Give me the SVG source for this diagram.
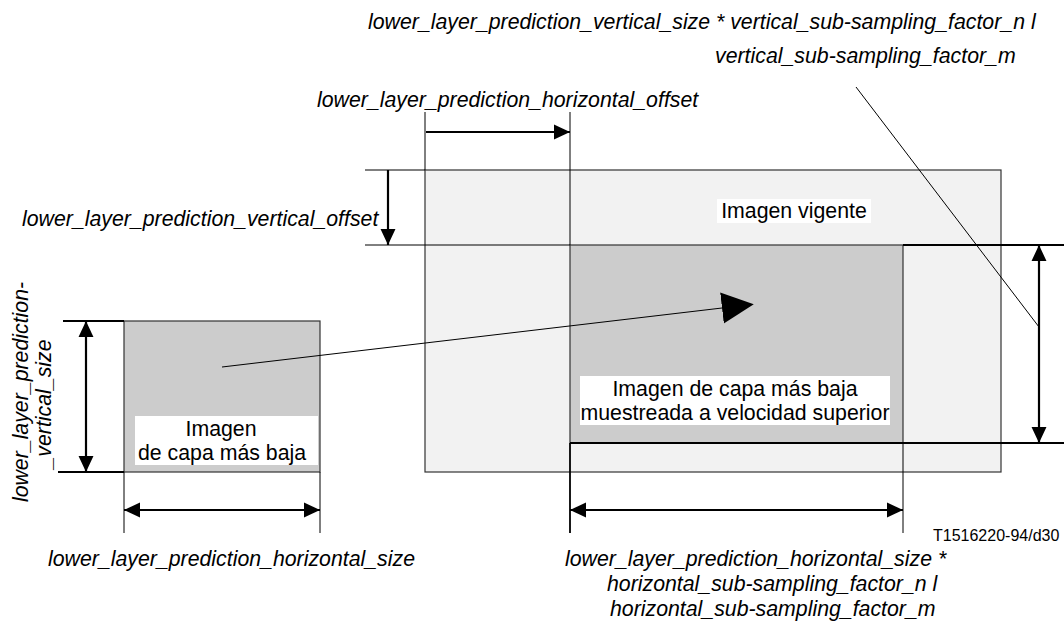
<svg xmlns="http://www.w3.org/2000/svg" width="1064" height="624" viewBox="0 0 1064 624">
<defs>
<style>
.lbl{font-family:"Liberation Sans",Arial,sans-serif;font-size:21.3px;font-style:italic;fill:#000}
.txt{font-family:"Liberation Sans",Arial,sans-serif;font-size:21.3px;fill:#000}
.small{font-family:"Liberation Sans",Arial,sans-serif;font-size:16px;fill:#000}
.ln{stroke:#000;stroke-width:1;fill:none}
.ext{stroke:#000;stroke-width:1.8;fill:none}
.dim{stroke:#000;stroke-width:2.2;fill:none;marker-start:url(#ah);marker-end:url(#ah)}
.one{stroke:#000;stroke-width:2.2;fill:none;marker-end:url(#ah)}
.box{fill:#fff}
</style>
<marker id="ah" markerUnits="userSpaceOnUse" markerWidth="16" markerHeight="16" viewBox="0 -7 15 14" refX="15" refY="0" orient="auto-start-reverse">
<path d="M0,-7 L15,0 L0,7 Z" fill="#000"/>
</marker>
<marker id="big" markerUnits="userSpaceOnUse" markerWidth="32" markerHeight="32" viewBox="0 -15 31 30" refX="0" refY="0" orient="auto">
<path d="M0,-15 L31,0 L0,15 Z" fill="#000"/>
</marker>
</defs>
<rect width="1064" height="624" fill="#fff"/>

<g id="current-picture">
<rect x="425" y="170" width="576" height="302" fill="#f2f2f2" stroke="#333" stroke-width="1.2"/>
<rect class="box" x="717" y="199" width="154" height="24"/>
<text class="txt" x="794" y="218" text-anchor="middle">Imagen vigente</text>
</g>

<g id="upsampled-lower-layer">
<rect x="570" y="245" width="333" height="198" fill="#cccccc" stroke="#333" stroke-width="1.2"/>
<rect class="box" x="580" y="376" width="310" height="49"/>
<text class="txt" x="735" y="396" text-anchor="middle">Imagen de capa más baja</text>
<text class="txt" x="735" y="420" text-anchor="middle">muestreada a velocidad superior</text>
</g>

<g id="lower-layer">
<rect x="124" y="321" width="196" height="151" fill="#cccccc" stroke="#333" stroke-width="1.2"/>
<rect class="box" x="135" y="416" width="183" height="49"/>
<text class="txt" x="221" y="436" text-anchor="middle">Imagen</text>
<text class="txt" x="222" y="460" text-anchor="middle">de capa más baja</text>
</g>

<g id="connectors">
<line class="ln" x1="425" y1="112" x2="425" y2="170"/>
<line class="ln" x1="570" y1="112" x2="570" y2="245"/>
<line class="ln" x1="365" y1="170" x2="425" y2="170"/>
<line class="ln" x1="365" y1="245" x2="570" y2="245"/>
<line class="ext" x1="903" y1="245" x2="1064" y2="245"/>
<line class="ext" x1="570" y1="443" x2="1064" y2="443"/>
<line class="ext" x1="570" y1="443" x2="570" y2="533"/>
<line class="ln" x1="903" y1="443" x2="903" y2="533" stroke-width="1.4"/>
<line class="ext" x1="63" y1="321" x2="124" y2="321"/>
<line class="ext" x1="58" y1="472" x2="124" y2="472"/>
<line class="ln" x1="124" y1="472" x2="124" y2="533" stroke-width="1.6"/>
<line class="ln" x1="320" y1="472" x2="320" y2="533" stroke-width="1.6"/>
<line class="one" x1="426" y1="132" x2="570" y2="132"/>
<line class="one" x1="388" y1="170" x2="388" y2="245"/>
<line class="dim" x1="86" y1="321" x2="86" y2="472"/>
<line class="dim" x1="124" y1="510" x2="320" y2="510"/>
<line class="dim" x1="570" y1="510" x2="903" y2="510"/>
<line class="dim" x1="1039" y1="245" x2="1039" y2="443"/>
<line class="ln" x1="856" y1="87" x2="1039" y2="327" stroke-width="1.3"/>
<line class="ln" x1="222" y1="367" x2="722" y2="308" stroke-width="1.3" marker-end="url(#big)"/>
</g>

<g id="labels">
<text class="lbl" x="368" y="29" font-size="21.6">lower_layer_prediction_vertical_size * vertical_sub-sampling_factor_n l</text>
<text class="lbl" x="715" y="63">vertical_sub-sampling_factor_m</text>
<text class="lbl" x="317" y="107">lower_layer_prediction_horizontal_offset</text>
<text class="lbl" x="22" y="226">lower_layer_prediction_vertical_offset</text>
<text class="lbl" transform="translate(28,392) rotate(-90)" text-anchor="middle">lower_layer_prediction-</text>
<text class="lbl" transform="translate(51,404) rotate(-90)" text-anchor="middle">_vertical_size</text>
<text class="lbl" x="48" y="566">lower_layer_prediction_horizontal_size</text>
<text class="lbl" x="565" y="566">lower_layer_prediction_horizontal_size *</text>
<text class="lbl" x="607" y="591">horizontal_sub-sampling_factor_n l</text>
<text class="lbl" x="610" y="616">horizontal_sub-sampling_factor_m</text>
<text class="small" x="933" y="541">T1516220-94/d30</text>
</g>
</svg>
